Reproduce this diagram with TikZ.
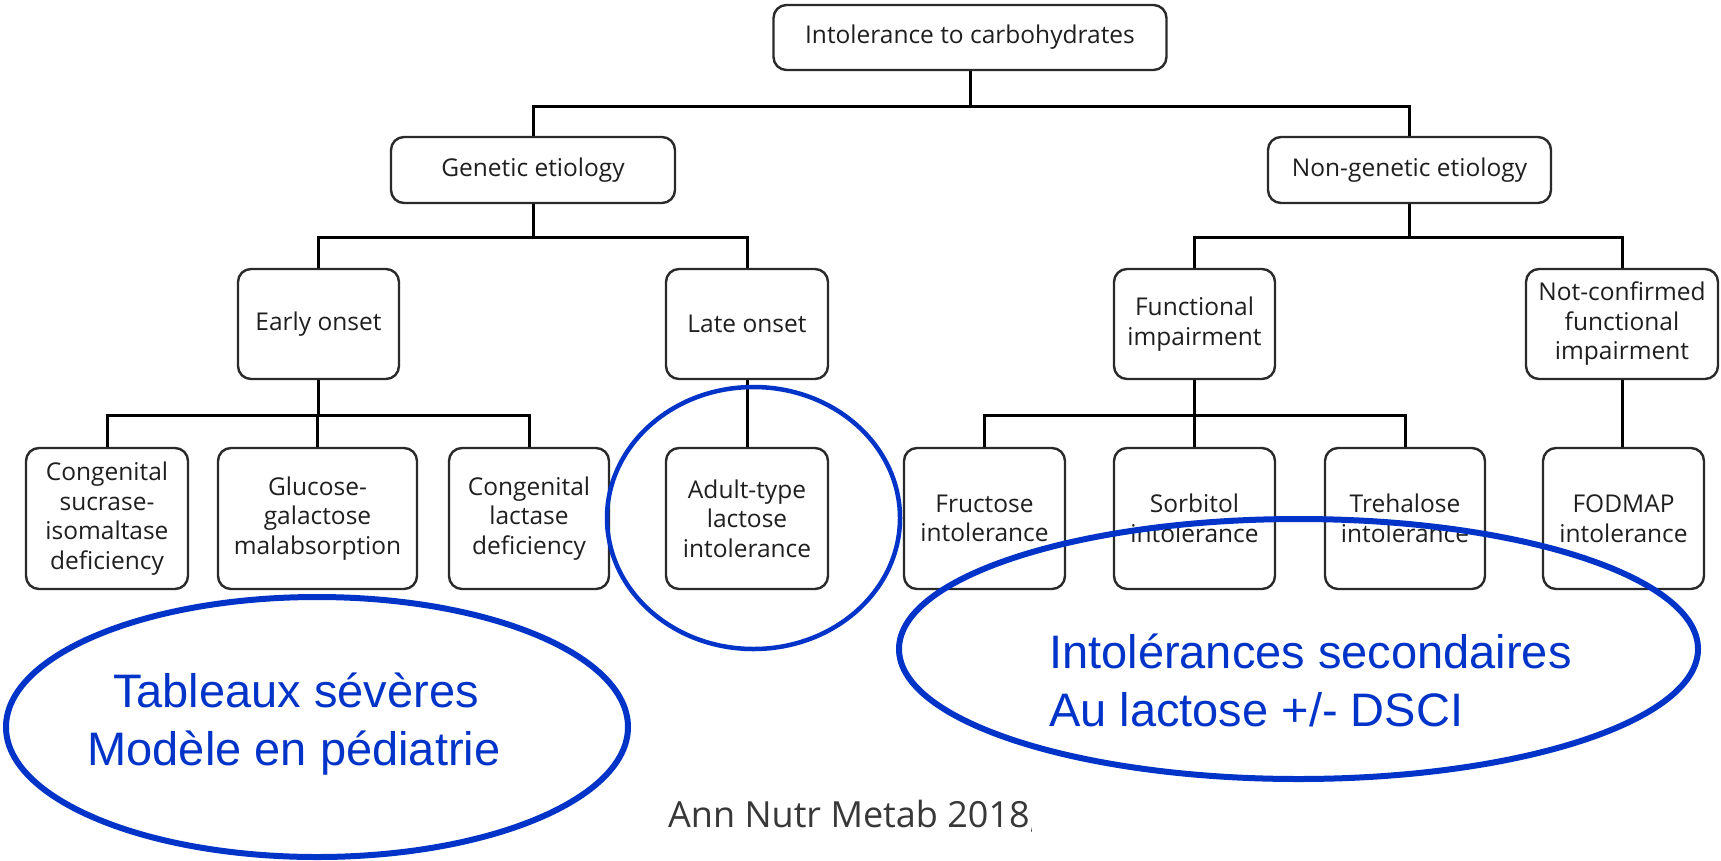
\documentclass[tikz,border=0pt]{standalone}
\usepackage{fontspec}
\setmainfont{Open Sans}
\newfontfamily\bluefont{Liberation Sans}
\usetikzlibrary{shapes.geometric}
\definecolor{ovalblue}{HTML}{0033C8}
\definecolor{boxline}{HTML}{2A2A2A}
\definecolor{cite}{HTML}{383838}
\begin{document}
\begin{tikzpicture}[x=1pt,y=-1pt,
  box/.style={draw=boxline,line width=2.4pt,rounded corners=13pt,align=center,
    inner sep=0pt,font=\fontsize{24.5}{29.5}\selectfont,text=black!88},
  conn/.style={draw=black,line width=3pt},
  oval/.style={draw=ovalblue,line width=6pt,ellipse,inner sep=0pt},
  bluetxt/.style={text=ovalblue,font=\bluefont\fontsize{47}{58}\selectfont,inner sep=0pt}]
\useasboundingbox (0,0) rectangle (1721,860);
\fill[white] (0,0) rectangle (1721,860);
% level 0
\node[box,minimum width=393pt,minimum height=65pt] (top) at (970,37.5) {Intolerance to carbohydrates};
% level 1
\node[box,minimum width=284pt,minimum height=66pt] (gen) at (533,170) {Genetic etiology};
\node[box,minimum width=283pt,minimum height=66pt] (ngen) at (1409.5,170) {Non-genetic etiology};
% level 2
\node[box,minimum width=161pt,minimum height=110pt] (early) at (318.5,324) {Early onset};
\node[box,minimum width=162pt,minimum height=110pt] (late) at (747,324) {Late onset};
\node[box,minimum width=161pt,minimum height=110pt] (func) at (1194.5,324) {Functional\\impairment};
\node[box,minimum width=192pt,minimum height=110pt] (ncf) at (1622,324) {Not-confirmed\\functional\\impairment};
% leaves
\node[box,minimum width=162pt,minimum height=141pt] (csid) at (107,518.5) {Congenital\\sucrase-\\isomaltase\\deficiency};
\node[box,minimum width=199pt,minimum height=141pt] (ggm) at (317.5,518.5) {Glucose-\\galactose\\malabsorption};
\node[box,minimum width=160pt,minimum height=141pt] (cld) at (529,518.5) {Congenital\\lactase\\deficiency};
\node[box,minimum width=162pt,minimum height=141pt] (adult) at (747,518.5) {Adult-type\\lactose\\intolerance};
\node[box,minimum width=161pt,minimum height=141pt] (fruc) at (984.5,518.5) {Fructose\\intolerance};
\node[box,minimum width=161pt,minimum height=141pt] (sorb) at (1194.5,518.5) {Sorbitol\\intolerance};
\node[box,minimum width=160pt,minimum height=141pt] (treh) at (1405,518.5) {Trehalose\\intolerance};
\node[box,minimum width=161pt,minimum height=141pt] (fod) at (1623.5,518.5) {FODMAP\\intolerance};
% connectors
\draw[conn] (top.south) -- (top.south |- 0,106) -| (gen.north);
\draw[conn] (top.south |- 0,106) -| (ngen.north);
\draw[conn] (gen.south) -- (gen.south |- 0,237) -| (early.north);
\draw[conn] (gen.south |- 0,237) -| (late.north);
\draw[conn] (ngen.south) -- (ngen.south |- 0,237) -| (func.north);
\draw[conn] (ngen.south |- 0,237) -| (ncf.north);
\draw[conn] (early.south) -- (early.south |- 0,415) -| (csid.north);
\draw[conn] (early.south |- 0,415) -| (ggm.north);
\draw[conn] (early.south |- 0,415) -| (cld.north);
\draw[conn] (late.south) -- (adult.north);
\draw[conn] (func.south) -- (func.south |- 0,415) -| (fruc.north);
\draw[conn] (func.south |- 0,415) -| (sorb.north);
\draw[conn] (func.south |- 0,415) -| (treh.north);
\draw[conn] (ncf.south) -- (ncf.south |- fod.north);
% ovals
\node[oval,line width=4.5pt,minimum width=293pt,minimum height=262pt] (circ) at (753.5,518) {};
\node[oval,minimum width=622pt,minimum height=260pt] (lov) at (317,727) {};
\node[oval,minimum width=799pt,minimum height=260pt] (rov) at (1298.5,649) {};
% blue texts
\node[bluetxt,anchor=base] (t1) at (296,707) {Tableaux sévères};
\node[bluetxt,anchor=base] (t2) at (294,765) {Modèle en pédiatrie};
\node[bluetxt,anchor=base west] (t3) at (1049,668) {Intolérances secondaires};
\node[bluetxt,anchor=base west] (t4) at (1049,726) {Au lactose +/- DSCI};
% citation
\begin{scope}
\clip (600,770) rectangle (1031,860);
\node[anchor=base west,inner sep=0pt,text=cite,font=\fontsize{36}{44}\selectfont] (cit) at (668,827) {Ann Nutr Metab 2018;};
\end{scope}
\end{tikzpicture}
\end{document}
